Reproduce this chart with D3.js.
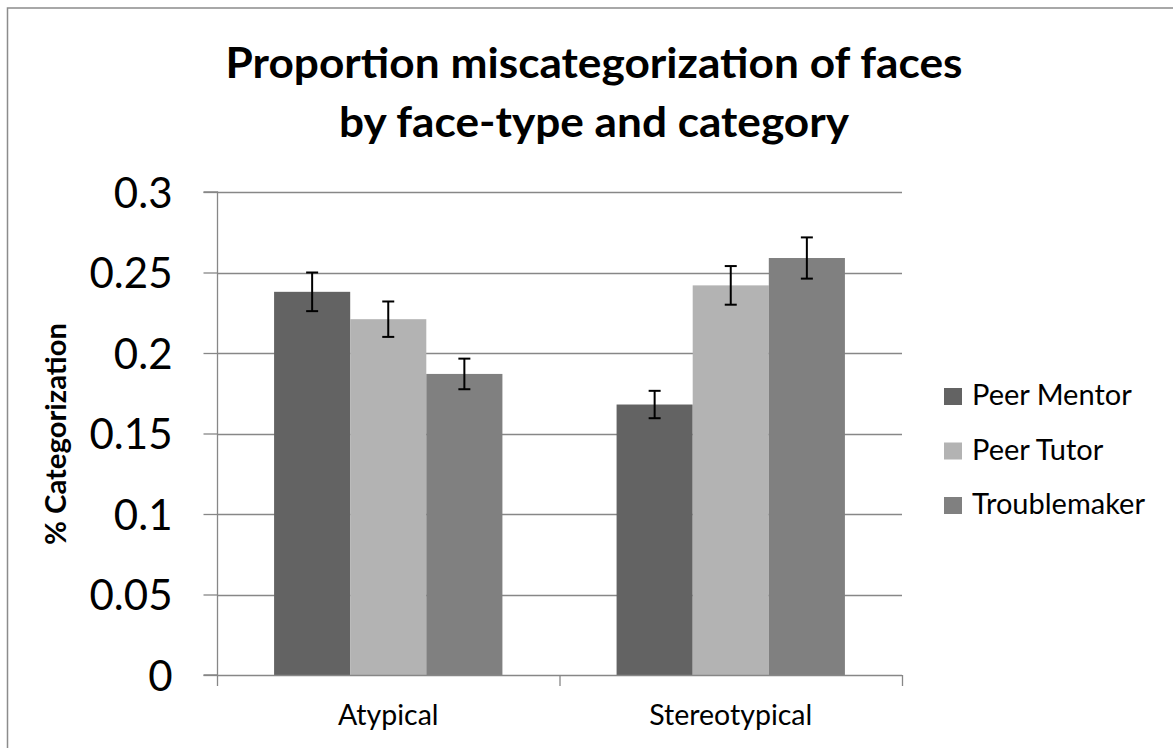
<!DOCTYPE html>
<html>
<head>
<meta charset="utf-8">
<script src="https://cdn.jsdelivr.net/npm/d3@7"></script>
<style>
  html, body { margin: 0; padding: 0; background: #fff; }
  svg { display: block; }
  text { font-family: Lato, "Open Sans", sans-serif; fill: #000; }
</style>
</head>
<body>
<svg id="chart" width="1173" height="748"></svg>
<script>
// ---- data ----
const titleLines = ["Proportion miscategorization of faces", "by face-type and category"];
const yAxisTitle = "% Categorization";
const categories = ["Atypical", "Stereotypical"];
const seriesNames = ["Peer Mentor", "Peer Tutor", "Troublemaker"];
const peerMentor = [0.238, 0.168];
const peerTutor = [0.221, 0.242];
const troublemaker = [0.187, 0.259];
const peerMentorErr = [0.012, 0.0085];
const peerTutorErr = [0.011, 0.012];
const troublemakerErr = [0.0095, 0.0128];
const yTickValues = [0, 0.05, 0.1, 0.15, 0.2, 0.25, 0.3];
const yTickLabels = ["0", "0.05", "0.1", "0.15", "0.2", "0.25", "0.3"];
const seriesColors = ["#636363", "#b3b3b3", "#808080"];

const seriesValues = [peerMentor, peerTutor, troublemaker];
const seriesErrors = [peerMentorErr, peerTutorErr, troublemakerErr];

// ---- layout ----
const svg = d3.select("#chart");
const plot = { left: 217, right: 902, top: 192, bottom: 675 };
const gridColor = "#878787";

// outer frame
svg.append("path")
  .attr("d", `M7.5,760 L7.5,8 L1180,8`)
  .attr("fill", "none").attr("stroke", "#8c8c8c").attr("stroke-width", 1.5);

const y = d3.scaleLinear().domain([0, 0.3]).range([plot.bottom, plot.top]);
const x0 = d3.scaleBand().domain(categories).range([plot.left, plot.right]).paddingInner(0).paddingOuter(0);
const barW = x0.bandwidth() / 4.5;
const x1 = d3.scaleBand().domain(seriesNames)
  .range([barW * 0.75, barW * 3.75]).padding(0);

// gridlines
svg.append("g").selectAll("line")
  .data(yTickValues.filter(v => v > 0))
  .join("line")
  .attr("x1", plot.left).attr("x2", plot.right)
  .attr("y1", d => Math.round(y(d)) + 0.5).attr("y2", d => Math.round(y(d)) + 0.5)
  .attr("stroke", gridColor).attr("stroke-width", 1.3);

// y axis
const yAxis = d3.axisLeft(y).tickValues(yTickValues)
  .tickFormat((d, i) => yTickLabels[i]).tickSize(14).tickPadding(31);
const gy = svg.append("g").attr("transform", `translate(${plot.left + 0.5},0)`).call(yAxis);
gy.select(".domain").attr("stroke", gridColor).attr("stroke-width", 1.3)
  .attr("d", `M-14,${plot.top}H0V${plot.bottom}H-14`);
gy.selectAll(".tick line").attr("stroke", gridColor).attr("stroke-width", 1.3);
gy.selectAll(".tick text").attr("font-size", 42).attr("fill", "#000")
  .attr("font-family", "Lato, sans-serif").attr("dy", "0.36em");

// bars
const groups = svg.append("g").selectAll("g")
  .data(categories)
  .join("g")
  .attr("transform", d => `translate(${x0(d)},0)`);

groups.selectAll("rect")
  .data((c, ci) => seriesNames.map((s, si) => ({ s, si, v: seriesValues[si][ci], e: seriesErrors[si][ci] })))
  .join("rect")
  .attr("x", d => x1(d.s))
  .attr("width", x1.bandwidth())
  .attr("y", d => y(d.v))
  .attr("height", d => y(0) - y(d.v))
  .attr("fill", d => seriesColors[d.si]);

// x axis
const xAxisG = svg.append("g");
xAxisG.append("line")
  .attr("x1", plot.left).attr("x2", plot.right)
  .attr("y1", plot.bottom + 0.5).attr("y2", plot.bottom + 0.5)
  .attr("stroke", gridColor).attr("stroke-width", 1.3);
const boundaries = categories.map(c => x0(c)).concat([x0(categories[categories.length - 1]) + x0.bandwidth()]);
xAxisG.selectAll("line.tk").data(boundaries).join("line").attr("class", "tk")
  .attr("x1", d => d + 0.5).attr("x2", d => d + 0.5)
  .attr("y1", plot.bottom).attr("y2", plot.bottom + 11)
  .attr("stroke", gridColor).attr("stroke-width", 1.3);
xAxisG.selectAll("text").data(categories).join("text")
  .attr("x", d => x0(d) + x0.bandwidth() / 2)
  .attr("y", 725)
  .attr("text-anchor", "middle")
  .attr("font-size", 28.5)
  .text(d => d);

// error bars
const eb = groups.selectAll("g.err")
  .data((c, ci) => seriesNames.map((s, si) => ({ s, si, v: seriesValues[si][ci], e: seriesErrors[si][ci] })))
  .join("g").attr("class", "err");
eb.append("line")
  .attr("x1", d => x1(d.s) + x1.bandwidth() / 2).attr("x2", d => x1(d.s) + x1.bandwidth() / 2)
  .attr("y1", d => y(d.v + d.e)).attr("y2", d => y(d.v - d.e))
  .attr("stroke", "#000").attr("stroke-width", 2);
eb.append("line")
  .attr("x1", d => x1(d.s) + x1.bandwidth() / 2 - 6).attr("x2", d => x1(d.s) + x1.bandwidth() / 2 + 6)
  .attr("y1", d => y(d.v + d.e)).attr("y2", d => y(d.v + d.e))
  .attr("stroke", "#000").attr("stroke-width", 2);
eb.append("line")
  .attr("x1", d => x1(d.s) + x1.bandwidth() / 2 - 6).attr("x2", d => x1(d.s) + x1.bandwidth() / 2 + 6)
  .attr("y1", d => y(d.v - d.e)).attr("y2", d => y(d.v - d.e))
  .attr("stroke", "#000").attr("stroke-width", 2);

// title
const titleWidths = [737, 510];
const titleBaselines = [78, 137];
svg.append("g").selectAll("text").data(titleLines).join("text")
  .attr("x", 594)
  .attr("y", (d, i) => titleBaselines[i])
  .attr("text-anchor", "middle")
  .attr("font-size", 42)
  .attr("font-weight", 700)
  .attr("textLength", (d, i) => titleWidths[i])
  .attr("lengthAdjust", "spacingAndGlyphs")
  .text(d => d);

// y axis title
svg.append("text")
  .attr("transform", `translate(66,434) rotate(-90)`)
  .attr("text-anchor", "middle")
  .attr("font-size", 28)
  .attr("font-weight", 700)
  .attr("textLength", 222)
  .attr("lengthAdjust", "spacingAndGlyphs")
  .text(yAxisTitle);

// legend
const legend = svg.append("g").attr("transform", "translate(944,405)");
const li = legend.selectAll("g").data(seriesNames).join("g")
  .attr("transform", (d, i) => `translate(0,${i * 54.5})`);
li.append("rect").attr("x", 0).attr("y", -17).attr("width", 18).attr("height", 17)
  .attr("fill", (d, i) => seriesColors[i]);
li.append("text").attr("x", 28).attr("y", 0).attr("font-size", 29).text(d => d);
</script>
</body>
</html>
